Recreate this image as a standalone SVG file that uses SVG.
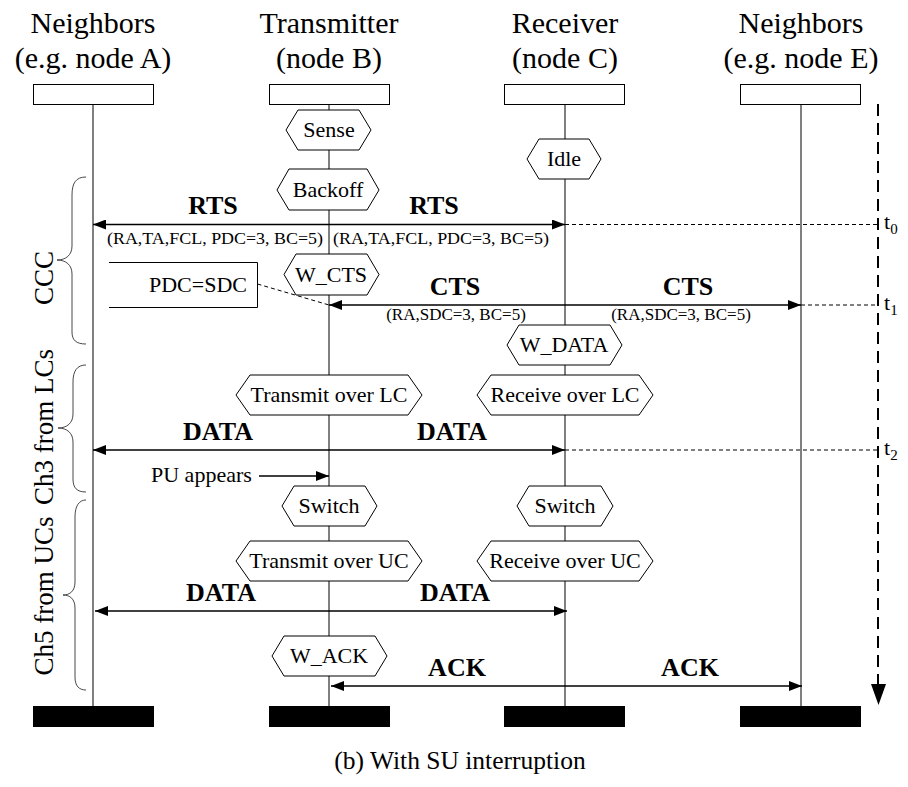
<svg xmlns="http://www.w3.org/2000/svg" width="908" height="787" viewBox="0 0 908 787">
  <style>
    text { font-family: "Liberation Serif", "Times New Roman", serif; fill: #000; }
    .hdr { font-size: 30px; text-anchor: middle; }
    .side { font-size: 27px; text-anchor: middle; }
    .st { font-size: 22px; text-anchor: middle; }
    .msg { font-size: 26px; font-weight: bold; text-anchor: middle; }
    .sub { font-size: 17px; text-anchor: middle; }
    .note { font-size: 22px; }
    .tl { font-size: 22px; }
    .tl tspan { font-size: 15px; }
    .cap { font-size: 25.5px; text-anchor: middle; }
    .head { fill: #fff; stroke: #000; stroke-width: 1; }
    .bar { fill: #000; }
    .life { stroke: #000; stroke-width: 1; fill: none; }
    .hex { fill: #fff; stroke: #000; stroke-width: 1; }
    .arrow { stroke: #000; stroke-width: 1.3; fill: none; }
    .dash { stroke: #000; stroke-width: 1; stroke-dasharray: 4 3; fill: none; }
    .brace { stroke: #333; stroke-width: 0.9; fill: none; }
    .axis { stroke: #000; stroke-width: 2; stroke-dasharray: 12 7; fill: none; }
  </style>
  <defs>
    <marker id="ah" markerUnits="userSpaceOnUse" viewBox="0 0 13 10" refX="13" refY="5" markerWidth="13" markerHeight="10" orient="auto-start-reverse">
      <path d="M0,0 L13,5 L0,10 z" fill="#000"/>
    </marker>
  </defs>

  <!-- lifeline headers -->
  <g id="nodeA">
    <text class="hdr" x="93" y="33">Neighbors</text>
    <text class="hdr" x="93" y="68">(e.g. node A)</text>
    <rect class="head" x="33.5" y="84.5" width="120" height="20"/>
    <line class="life" x1="93" y1="104.5" x2="93" y2="706"/>
    <rect class="bar" x="33" y="706" width="121" height="21"/>
  </g>
  <g id="nodeB">
    <text class="hdr" x="329" y="33">Transmitter</text>
    <text class="hdr" x="329" y="68">(node B)</text>
    <rect class="head" x="269.5" y="84.5" width="120" height="20"/>
    <line class="life" x1="329" y1="104.5" x2="329" y2="706"/>
    <rect class="bar" x="269" y="706" width="121" height="21"/>
  </g>
  <g id="nodeC">
    <text class="hdr" x="565" y="33">Receiver</text>
    <text class="hdr" x="565" y="68">(node C)</text>
    <rect class="head" x="504.5" y="84.5" width="120" height="20"/>
    <line class="life" x1="565" y1="104.5" x2="565" y2="706"/>
    <rect class="bar" x="504" y="706" width="121" height="21"/>
  </g>
  <g id="nodeE">
    <text class="hdr" x="801" y="33">Neighbors</text>
    <text class="hdr" x="801" y="68">(e.g. node E)</text>
    <rect class="head" x="740.5" y="84.5" width="120" height="20"/>
    <line class="life" x1="801" y1="104.5" x2="801" y2="706"/>
    <rect class="bar" x="740" y="706" width="121" height="21"/>
  </g>

  <!-- states on the transmitter -->
  <g id="sense">
    <polygon class="hex" points="286,130 298,110 359,110 371,130 359,150 298,150"/>
    <text class="st" x="329" y="137">Sense</text>
  </g>
  <g id="backoff">
    <polygon class="hex" points="277,190 289,169 367,169 379,190 367,210 289,210"/>
    <text class="st" x="328" y="197">Backoff</text>
  </g>
  <g id="wcts">
    <polygon class="hex" points="284,274.5 296,254 367,254 379,274.5 367,295 296,295"/>
    <text class="st" x="331" y="282">W_CTS</text>
  </g>
  <g id="txLC">
    <polygon class="hex" points="236,395 250,375 408,375 422,395 408,415 250,415"/>
    <text class="st" x="329" y="402">Transmit over LC</text>
  </g>
  <g id="switchB">
    <polygon class="hex" points="282,506 294,486 365,486 377,506 365,526 294,526"/>
    <text class="st" x="329" y="513">Switch</text>
  </g>
  <g id="txUC">
    <polygon class="hex" points="236,561 250,541 408,541 422,561 408,581 250,581"/>
    <text class="st" x="329" y="568">Transmit over UC</text>
  </g>
  <g id="wack">
    <polygon class="hex" points="272,656 284,636 375,636 387,656 375,676 284,676"/>
    <text class="st" x="329" y="663">W_ACK</text>
  </g>

  <!-- states on the receiver -->
  <g id="idle">
    <polygon class="hex" points="527,159 539,139 589,139 601,159 589,179 539,179"/>
    <text class="st" x="564" y="166">Idle</text>
  </g>
  <g id="wdata">
    <polygon class="hex" points="507,345 519,325 610,325 622,345 610,365 519,365"/>
    <text class="st" x="564" y="352">W_DATA</text>
  </g>
  <g id="rxLC">
    <polygon class="hex" points="477,395 491,375 639,375 653,395 639,415 491,415"/>
    <text class="st" x="565" y="402">Receive over LC</text>
  </g>
  <g id="switchC">
    <polygon class="hex" points="517,506 529,486 601,486 613,506 601,526 529,526"/>
    <text class="st" x="565" y="513">Switch</text>
  </g>
  <g id="rxUC">
    <polygon class="hex" points="477,561 491,541 639,541 653,561 639,581 491,581"/>
    <text class="st" x="565" y="568">Receive over UC</text>
  </g>

  <!-- channel phase braces -->
  <g id="phaseCCC">
    <path class="brace" d="M86,177 C76,177 72,183 72,195 L72,246 C72,255 66,260 57,260 C66,260 72,265 72,274 L72,332 C72,340 76,344 86,344"/>
    <text class="side" transform="translate(53,278) rotate(-90)">CCC</text>
  </g>
  <g id="phaseLC">
    <path class="brace" d="M86,365 C77,365 73,371 73,382 L73,414 C73,423 67,428 58,428 C67,428 73,433 73,442 L73,479 C73,488 77,492 86,492"/>
    <text class="side" transform="translate(53,427) rotate(-90)">Ch3 from LCs</text>
  </g>
  <g id="phaseUC">
    <path class="brace" d="M86,500 C79,500 75,506 75,517 L75,582 C75,591 70,595 63,595 C70,595 75,599 75,608 L75,677 C75,686 79,690 86,690"/>
    <text class="side" transform="translate(53,596) rotate(-90)">Ch5 from UCs</text>
  </g>

  <!-- PDC=SDC note -->
  <g id="note">
    <path class="life" d="M109,262.5 H257.5 V307.5 H109"/>
    <text class="note" x="247" y="292" text-anchor="end">PDC=SDC</text>
  </g>

  <!-- time axis -->
  <g id="timeaxis">
    <line class="axis" x1="878" y1="104" x2="878" y2="686"/>
    <path d="M871,684 L886,684 L878.5,705 z" fill="#000"/>
    <text class="tl" x="884" y="229">t<tspan dy="5">0</tspan></text>
    <text class="tl" x="884" y="310">t<tspan dy="5">1</tspan></text>
    <text class="tl" x="884" y="455">t<tspan dy="5">2</tspan></text>
  </g>

  <!-- messages -->
  <g id="connectors">
    <line class="arrow" x1="93" y1="224.5" x2="565" y2="224.5" marker-start="url(#ah)" marker-end="url(#ah)"/>
    <line class="dash" x1="565" y1="224.5" x2="878" y2="224.5"/>
    <text class="msg" x="213" y="214">RTS</text>
    <text class="msg" x="434" y="214">RTS</text>
    <text class="sub" x="215" y="244" textLength="216" lengthAdjust="spacingAndGlyphs">(RA,TA,FCL, PDC=3, BC=5)</text>
    <text class="sub" x="441" y="244" textLength="216" lengthAdjust="spacingAndGlyphs">(RA,TA,FCL, PDC=3, BC=5)</text>

    <line class="dash" x1="257.5" y1="284" x2="329" y2="305"/>
    <line class="arrow" x1="329" y1="305" x2="801" y2="305" marker-start="url(#ah)" marker-end="url(#ah)"/>
    <line class="dash" x1="801" y1="305" x2="878" y2="305"/>
    <text class="msg" x="455" y="295">CTS</text>
    <text class="msg" x="688" y="295">CTS</text>
    <text class="sub" x="456" y="320">(RA,SDC=3, BC=5)</text>
    <text class="sub" x="681" y="320">(RA,SDC=3, BC=5)</text>

    <line class="arrow" x1="93" y1="450" x2="565" y2="450" marker-start="url(#ah)" marker-end="url(#ah)"/>
    <line class="dash" x1="565" y1="450" x2="878" y2="450"/>
    <text class="msg" x="218" y="440">DATA</text>
    <text class="msg" x="452" y="440">DATA</text>

    <line class="arrow" x1="259" y1="476" x2="329" y2="476" marker-end="url(#ah)"/>
    <text class="note" x="151" y="482">PU appears</text>

    <line class="arrow" x1="95" y1="611" x2="567" y2="611" marker-start="url(#ah)" marker-end="url(#ah)"/>
    <text class="msg" x="221" y="601">DATA</text>
    <text class="msg" x="455" y="601">DATA</text>

    <line class="arrow" x1="331" y1="686" x2="802" y2="686" marker-start="url(#ah)" marker-end="url(#ah)"/>
    <text class="msg" x="457" y="676">ACK</text>
    <text class="msg" x="690" y="676">ACK</text>
  </g>

  <text class="cap" x="460" y="769">(b) With SU interruption</text>
</svg>
